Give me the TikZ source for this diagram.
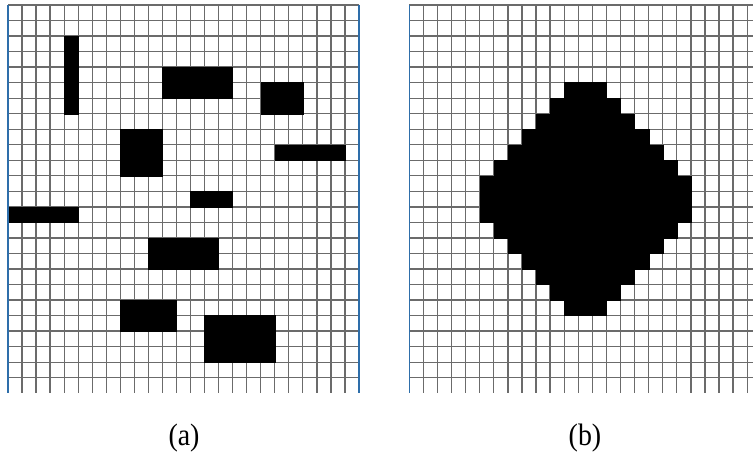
\documentclass[tikz,border=0pt]{standalone}
\usepackage{fontspec}
\setmainfont{Liberation Serif}
\usetikzlibrary{positioning}
\definecolor{edgeblue}{RGB}{46,110,170}

\begin{document}
\begin{tikzpicture}[
        x=1pt, y=1pt,
        gridline/.style={draw=black!58, line width=1.3pt},
        sideline/.style={draw=edgeblue, line width=1.2pt},
        block/.style={fill=black, draw=black, line width=0.3pt},
        caption/.style={font=\fontsize{31}{36}\selectfont, inner sep=0pt}
    ]
    \useasboundingbox (0,0) rectangle (753,464);

    % (a) scattered obstacles, 25 x 25 cells
    \begin{scope}[shift={(8,459)}, x=14.04pt, y=-15.53pt]
        \foreach \i in {1,...,24}
            \draw[gridline] (\i,0) -- (\i,25);
        \foreach \j in {0,...,24}
            \draw[gridline] (0,\j) -- (25,\j);
        \foreach \c/\r/\w/\h in {4/2/1/5, 11/4/5/2, 18/5/3/2, 8/8/3/3,
                19/9/5/1, 13/12/3/1, 0/13/5/1, 10/15/5/2, 8/19/4/2, 14/20/5/3}
            \fill[block] (\c,\r) rectangle ++(\w,\h);
        \draw[sideline] (0,0) -- (0,25);
        \draw[sideline] (25,0) -- (25,25);
    \end{scope}

    % (b) one diamond obstacle
    \begin{scope}
        \clip (0,0) rectangle (753,464);
        \begin{scope}[shift={(409.3,459)}, x=14.08pt, y=-15.53pt]
            \foreach \i in {1,...,25}
                \draw[gridline] (\i,0) -- (\i,25);
            \foreach \j in {0,...,24}
                \draw[gridline] (0,\j) -- (25,\j);
            \foreach \r/\c/\w in {5/11/3, 6/10/5, 7/9/7, 8/8/9, 9/7/11,
                    10/6/13, 11/5/15, 12/5/15, 13/5/15, 14/6/13,
                    15/7/11, 16/8/9, 17/9/7, 18/10/5, 19/11/3}
                \fill[block] (\c,\r) rectangle ++(\w,1);
            \draw[sideline] (0,0) -- (0,25);
        \end{scope}
    \end{scope}

    \node[caption, xscale=0.9] (capa) at (184,26) {(a)};
    \node[caption, xscale=0.9] (capb) at (585,26) {(b)};
\end{tikzpicture}
\end{document}
